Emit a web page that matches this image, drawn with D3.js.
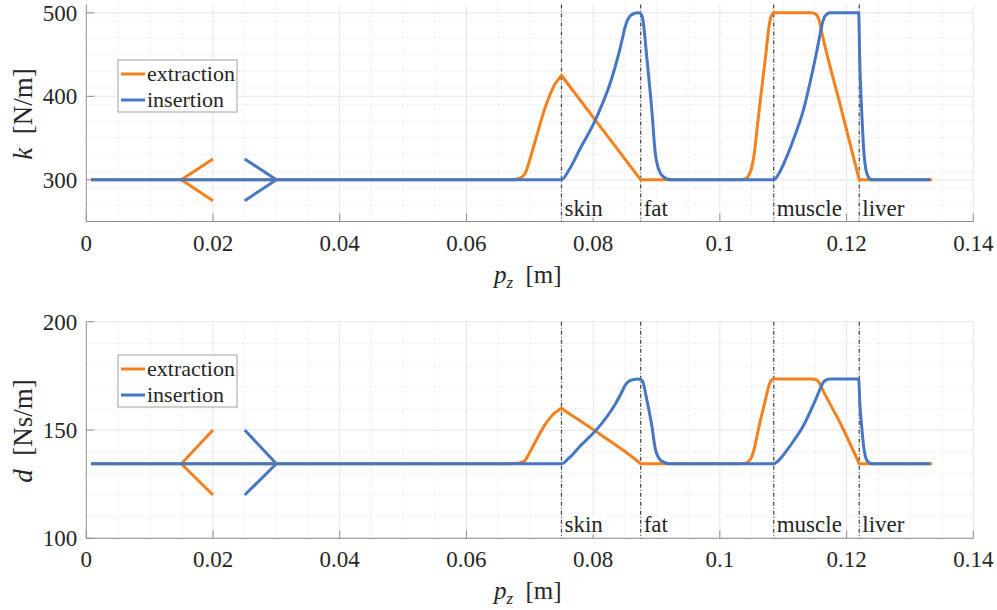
<!DOCTYPE html>
<html>
<head>
<meta charset="utf-8">
<script src="https://cdn.jsdelivr.net/npm/d3@7"></script>
<style>
  html, body { margin: 0; padding: 0; background: #fff; }
  svg { display: block; }
  text { font-family: "Liberation Serif", "Times New Roman", Times, "Tinos", "DejaVu Serif", serif; fill: #262626; }
</style>
</head>
<body>
<svg id="chart" width="997" height="610"></svg>
<script>
// ---------------- DATA ----------------
const xTicks = [0, 0.02, 0.04, 0.06, 0.08, 0.1, 0.12, 0.14];
const xTickLabels = ["0", "0.02", "0.04", "0.06", "0.08", "0.1", "0.12", "0.14"];
const kTicks = [300, 400, 500];
const dTicks = [100, 150, 200];

const tissueNames = ["skin", "fat", "muscle", "liver"];
const tissuePz = [0.075, 0.0875, 0.1085, 0.122];

// extraction (orange)
const pzExt = [0.00075, 0.0670, 0.0680, 0.0687, 0.0693, 0.0700, 0.0708, 0.0716, 0.0724, 0.0732, 0.0740, 0.0746, 0.0750, 0.0752,
  0.08125, 0.0873, 0.0875, 0.1030, 0.1040, 0.1046, 0.1050, 0.1054, 0.1058, 0.1063, 0.1071, 0.1079, 0.1085,
  0.1145, 0.1152, 0.1157, 0.1161, 0.11905, 0.1218, 0.1220, 0.1335];
const kExt = [300, 300, 301, 303, 308, 324, 345, 366, 386, 402, 415, 421, 425, 423,
  362.5, 302, 300, 300, 301, 306, 314, 330, 356, 390, 440, 490, 500,
  500, 498, 490, 476, 388, 306, 300, 300];
const dExt = [134.4, 134.4, 134.6, 135.1, 136.2, 139.7, 144.1, 148.5, 152.5, 155.6, 158.1, 159.2, 160.0, 159.6,
  147.7, 134.9, 134.4, 134.4, 134.6, 135.7, 137.5, 141.0, 146.4, 153.2, 162.8, 171.8, 173.5,
  173.5, 173.2, 171.8, 169.3, 152.9, 135.7, 134.4, 134.4];

// insertion (blue)
const pzIns = [0.00075, 0.0750, 0.0762, 0.0780, 0.0800, 0.0814, 0.0827, 0.0835, 0.0842, 0.0847, 0.0850, 0.0854,
  0.0858, 0.0864, 0.0871, 0.0875, 0.0878, 0.0885, 0.0893, 0.0898, 0.0902, 0.0906, 0.0912, 0.0922,
  0.1085, 0.1092, 0.1100, 0.1116, 0.1132, 0.1148, 0.1153, 0.1158, 0.1162, 0.1166, 0.1174,
  0.1219, 0.1221, 0.1224, 0.1227, 0.1230, 0.1234, 0.1240, 0.1332];
const kIns = [300, 300, 312, 338, 366, 390, 416, 436, 456, 472, 482, 491,
  496, 499, 500, 499, 494, 444, 380, 332, 316, 308, 303, 300,
  300, 306, 318, 348, 384, 436, 454, 474, 488, 496, 500,
  500, 436, 380, 336, 314, 304, 300, 300];
const dIns = [134.4, 134.4, 137.1, 142.7, 148.5, 153.2, 158.3, 162.0, 165.7, 168.6, 170.4, 171.9,
  172.8, 173.3, 173.5, 173.3, 172.5, 163.5, 151.3, 141.4, 137.9, 136.2, 135.1, 134.4,
  134.4, 135.7, 138.4, 144.8, 152.1, 162.0, 165.3, 168.9, 171.4, 172.8, 173.5,
  173.5, 162.0, 151.3, 142.2, 137.5, 135.3, 134.4, 134.4];

// direction arrows
const arrowExtPz = [0.02, 0.015, 0.02];
const arrowInsPz = [0.025, 0.03, 0.025];
const arrowK = [325, 300, 275];
const arrowD = [150, 134.4, 120];

const seriesNames = ["extraction", "insertion"];
const colExt = "#F5801E", colIns = "#4677C4";

// ---------------- DRAW ----------------
const svg = d3.select("#chart");
const x = d3.scaleLinear().domain([0, 0.14]).range([86.3, 973.3]);

function zip(a, b) { return a.map((v, i) => [v, b[i]]); }

function panel(opt) {
  const y = d3.scaleLinear().domain(opt.yDomain).range([opt.bottom, opt.top]);
  const g = svg.append("g");
  const x0 = x.range()[0], x1 = x.range()[1];

  // minor grid
  const xMinor = d3.range(0.005, 0.1401, 0.005).filter(v => Math.abs(v / 0.02 - Math.round(v / 0.02)) > 1e-6);
  g.selectAll(".xminor").data(xMinor).join("line")
    .attr("x1", d => x(d)).attr("x2", d => x(d)).attr("y1", opt.top).attr("y2", opt.bottom)
    .attr("stroke", "#e4e4e4").attr("stroke-width", 0.8).attr("stroke-dasharray", "2,2");
  const yMinor = d3.range(opt.yDomain[0], opt.yDomain[1] + 1e-6, opt.minorStep)
    .filter(v => !opt.yTicks.includes(v) && v > opt.yDomain[0] && v < opt.yDomain[1]);
  g.selectAll(".yminor").data(yMinor).join("line")
    .attr("x1", x0).attr("x2", x1).attr("y1", d => y(d)).attr("y2", d => y(d))
    .attr("stroke", "#e4e4e4").attr("stroke-width", 0.8).attr("stroke-dasharray", "2,2");
  // major grid
  g.selectAll(".xmajor").data(xTicks.slice(1)).join("line")
    .attr("x1", d => x(d)).attr("x2", d => x(d)).attr("y1", opt.top).attr("y2", opt.bottom)
    .attr("stroke", "#e6e6e6").attr("stroke-width", 1);
  g.selectAll(".ymajor").data(opt.yTicks).join("line")
    .attr("x1", x0).attr("x2", x1).attr("y1", d => y(d)).attr("y2", d => y(d))
    .attr("stroke", "#e6e6e6").attr("stroke-width", 1);

  // axes
  const axisCol = "#8f8f8f";
  g.append("line").attr("x1", x0).attr("x2", x0).attr("y1", opt.top).attr("y2", opt.bottom).attr("stroke", axisCol);
  g.append("line").attr("x1", x0).attr("x2", x1).attr("y1", opt.bottom).attr("y2", opt.bottom).attr("stroke", axisCol);
  g.selectAll(".xt").data(xTicks).join("line")
    .attr("x1", d => x(d)).attr("x2", d => x(d)).attr("y1", opt.bottom).attr("y2", opt.bottom - 8).attr("stroke", axisCol);
  g.selectAll(".yt").data(opt.yTicks).join("line")
    .attr("x1", x0).attr("x2", x0 + 8).attr("y1", d => y(d)).attr("y2", d => y(d)).attr("stroke", axisCol);
  g.selectAll(".xtl").data(xTicks).join("text")
    .attr("x", d => x(d)).attr("y", opt.bottom + 29).attr("text-anchor", "middle")
    .attr("font-size", 23).text((d, i) => xTickLabels[i]);
  g.selectAll(".ytl").data(opt.yTicks).join("text")
    .attr("x", x0 - 9).attr("y", d => y(d)).attr("dy", "0.34em").attr("text-anchor", "end")
    .attr("font-size", 23).text(d => d);

  // axis labels
  const xl = g.append("text").attr("x", (x0 + x1) / 2 - 2).attr("y", opt.bottom + 61)
    .attr("text-anchor", "middle").attr("font-size", 25);
  xl.append("tspan").attr("font-style", "italic").text("p");
  xl.append("tspan").attr("font-style", "italic").attr("font-size", 17).attr("dy", 5).text("z");
  xl.append("tspan").attr("dy", -5).text("\u2002[m]");
  const yl = g.append("text")
    .attr("transform", `translate(32,${(opt.top + opt.bottom) / 2 + 1}) rotate(-90)`)
    .attr("text-anchor", "middle").attr("font-size", 27);
  yl.append("tspan").attr("font-style", "italic").text(opt.yVar);
  yl.append("tspan").text("\u2002[" + opt.yUnit + "]");

  // tissue boundaries
  g.selectAll(".tb").data(tissuePz).join("line")
    .attr("x1", d => x(d)).attr("x2", d => x(d)).attr("y1", opt.top).attr("y2", opt.bottom)
    .attr("stroke", "#4d4d4d").attr("stroke-width", 1.3).attr("stroke-dasharray", "4,2,1,2");
  tissuePz.forEach((p, i) => {
    const t = g.append("text").attr("x", x(p) + 3).attr("y", opt.bottom - 6)
      .attr("font-size", 23).text(tissueNames[i]);
    const bb = t.node().getBBox();
    g.insert("rect", () => t.node())
      .attr("x", bb.x).attr("y", bb.y + 3).attr("width", bb.width + 2).attr("height", bb.height - 6)
      .attr("fill", "#fff");
  });

  const line = d3.line().x(d => x(d[0])).y(d => y(d[1]));
  const draw = (pts, col, curve) => g.append("path").datum(pts).attr("d", line.curve(curve))
    .attr("fill", "none").attr("stroke", col).attr("stroke-width", 3)
    .attr("stroke-linejoin", "round").attr("stroke-linecap", "butt");
  draw(zip(arrowExtPz, opt.arrowY), colExt, d3.curveLinear);
  draw(zip(arrowInsPz, opt.arrowY), colIns, d3.curveLinear);
  draw(zip(pzExt, opt.ext), colExt, d3.curveMonotoneX);
  draw(zip(pzIns, opt.ins), colIns, d3.curveMonotoneX);

  // legend
  const lg = g.append("g").attr("transform", `translate(118,${opt.legendTop})`);
  lg.append("rect").attr("width", 119).attr("height", 52).attr("fill", "#fff").attr("stroke", "#a0a0a0");
  [colExt, colIns].forEach((c, i) => {
    lg.append("line").attr("x1", 3).attr("x2", 27).attr("y1", 14 + i * 26).attr("y2", 14 + i * 26)
      .attr("stroke", c).attr("stroke-width", 3);
    lg.append("text").attr("x", 29).attr("y", 14 + i * 26).attr("dy", "0.34em")
      .attr("font-size", 22).text(seriesNames[i]);
  });
}

panel({ top: 4.5, bottom: 221.5, yDomain: [250, 510], yTicks: kTicks, minorStep: 20,
  ext: kExt, ins: kIns, arrowY: arrowK, yVar: "k", yUnit: "N/m", legendTop: 60 });
panel({ top: 321.7, bottom: 538.3, yDomain: [100, 200], yTicks: dTicks, minorStep: 10,
  ext: dExt, ins: dIns, arrowY: arrowD, yVar: "d", yUnit: "Ns/m", legendTop: 355 });
</script>
</body>
</html>
